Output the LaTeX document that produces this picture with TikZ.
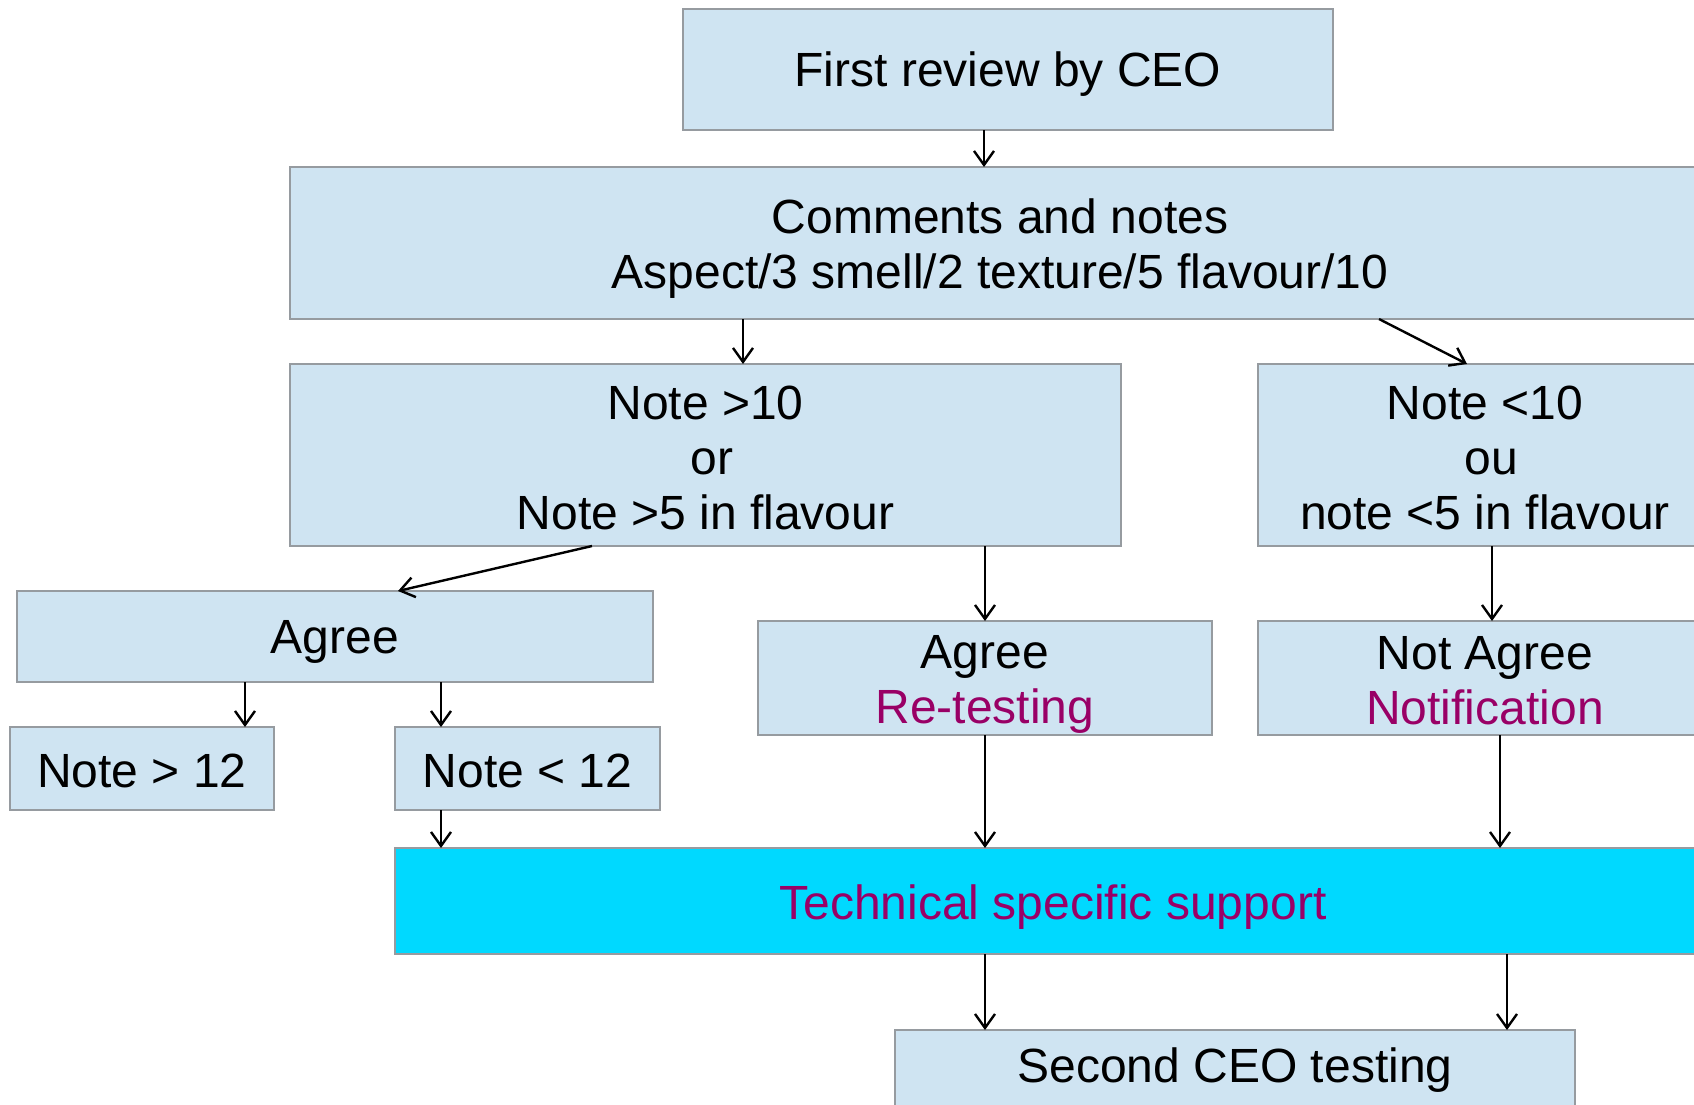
\documentclass[tikz,border=0pt]{standalone}
\usepackage{fontspec}
\setmainfont{Liberation Sans}
\usetikzlibrary{arrows.meta}
\definecolor{boxfill}{RGB}{207,228,242}
\definecolor{boxline}{RGB}{150,155,160}
\definecolor{cyanfill}{RGB}{0,217,255}
\definecolor{purp}{RGB}{153,0,102}
\begin{document}
\begin{tikzpicture}[x=1pt,y=-1pt,
  box/.style={draw=boxline, line width=1.2pt, fill=boxfill, inner sep=0pt, outer sep=0pt, anchor=north west},
  txt/.style={inner sep=0pt, align=center, font=\fontsize{48}{55}\selectfont},
  arr/.style={-{Straight Barb[length=14pt,width=20pt,line width=2.4pt]}, line width=2.4pt}]
\useasboundingbox (0,0) rectangle (1694,1104);
\clip (0,0) rectangle (1694,1104);

\node[box, minimum width=650pt, minimum height=121pt] (first) at (683,9) {};
\node[box, minimum width=1420pt, minimum height=152pt] (comments) at (290,167) {};
\node[box, minimum width=831pt, minimum height=182pt] (hi) at (290,364) {};
\node[box, minimum width=454pt, minimum height=182pt] (lo) at (1258,364) {};
\node[box, minimum width=636pt, minimum height=91pt] (agreeL) at (17,591) {};
\node[box, minimum width=264pt, minimum height=83pt] (gt) at (10,727) {};
\node[box, minimum width=265pt, minimum height=83pt] (lt) at (395,727) {};
\node[box, minimum width=454pt, minimum height=114pt] (agreeR) at (758,621) {};
\node[box, minimum width=454pt, minimum height=114pt] (notag) at (1258,621) {};
\node[box, fill=cyanfill, minimum width=1316pt, minimum height=106pt] (tech) at (395,848) {};
\node[box, minimum width=680pt, minimum height=121pt] (second) at (895,1030) {};

\node[txt] (tfirst) at ([yshift=-5pt]first.center) {First review by CEO};
\node[txt] (tcomments) at ([yshift=-6pt]comments.center) {Comments and notes\\Aspect/3 smell/2 texture/5 flavour/10};
\node[txt] (thi) at ([yshift=-3pt]hi.center) {Note >10\\\hspace*{13pt}or\\Note >5 in flavour};
\node[txt] (tlo) at ([yshift=-3pt]lo.center) {Note <10\\\hspace*{13pt}ou\\note <5 in flavour};
\node[txt] (tagreeL) at ([yshift=-5pt]agreeL.center) {Agree};
\node[txt] (tgt) at ([yshift=-2pt]gt.center) {Note > 12};
\node[txt] (tlt) at ([yshift=-2pt]lt.center) {Note < 12};
\node[txt] (tagreeR) at ([yshift=-6pt]agreeR.center) {Agree\\\textcolor{purp}{Re-testing}};
\node[txt] (tnotag) at ([yshift=-3pt]notag.center) {Not Agree\\\textcolor{purp}{Notification}};
\node[txt, text=purp] (ttech) at ([yshift=-6pt]tech.center) {Technical specific support};
\node[txt] (tsecond) at ([yshift=-40pt]second.north) {Second CEO testing};

\coordinate (v245) at (245,0);
\coordinate (v441) at (441,0);
\coordinate (v743) at (743,0);
\coordinate (v984) at (984,0);
\coordinate (v985) at (985,0);
\coordinate (v1492) at (1492,0);
\coordinate (v1500) at (1500,0);
\coordinate (v1507) at (1507,0);

\draw[arr] (first.south -| v984) -- (comments.north -| v984);
\draw[arr] (comments.south -| v743) -- (hi.north -| v743);
\draw[arr] ([xshift=1089pt]comments.south west) -- ([xshift=209pt]lo.north west);
\draw[arr] ([xshift=302pt]hi.south west) -- ([xshift=381pt]agreeL.north west);
\draw[arr] (hi.south -| v985) -- (agreeR.north -| v985);
\draw[arr] (lo.south -| v1492) -- (notag.north -| v1492);
\draw[arr] (agreeL.south -| v245) -- (gt.north -| v245);
\draw[arr] (agreeL.south -| v441) -- (lt.north -| v441);
\draw[arr] (lt.south -| v441) -- (tech.north -| v441);
\draw[arr] (agreeR.south -| v985) -- (tech.north -| v985);
\draw[arr] (notag.south -| v1500) -- (tech.north -| v1500);
\draw[arr] (tech.south -| v985) -- (second.north -| v985);
\draw[arr] (tech.south -| v1507) -- (second.north -| v1507);
\end{tikzpicture}
\end{document}
